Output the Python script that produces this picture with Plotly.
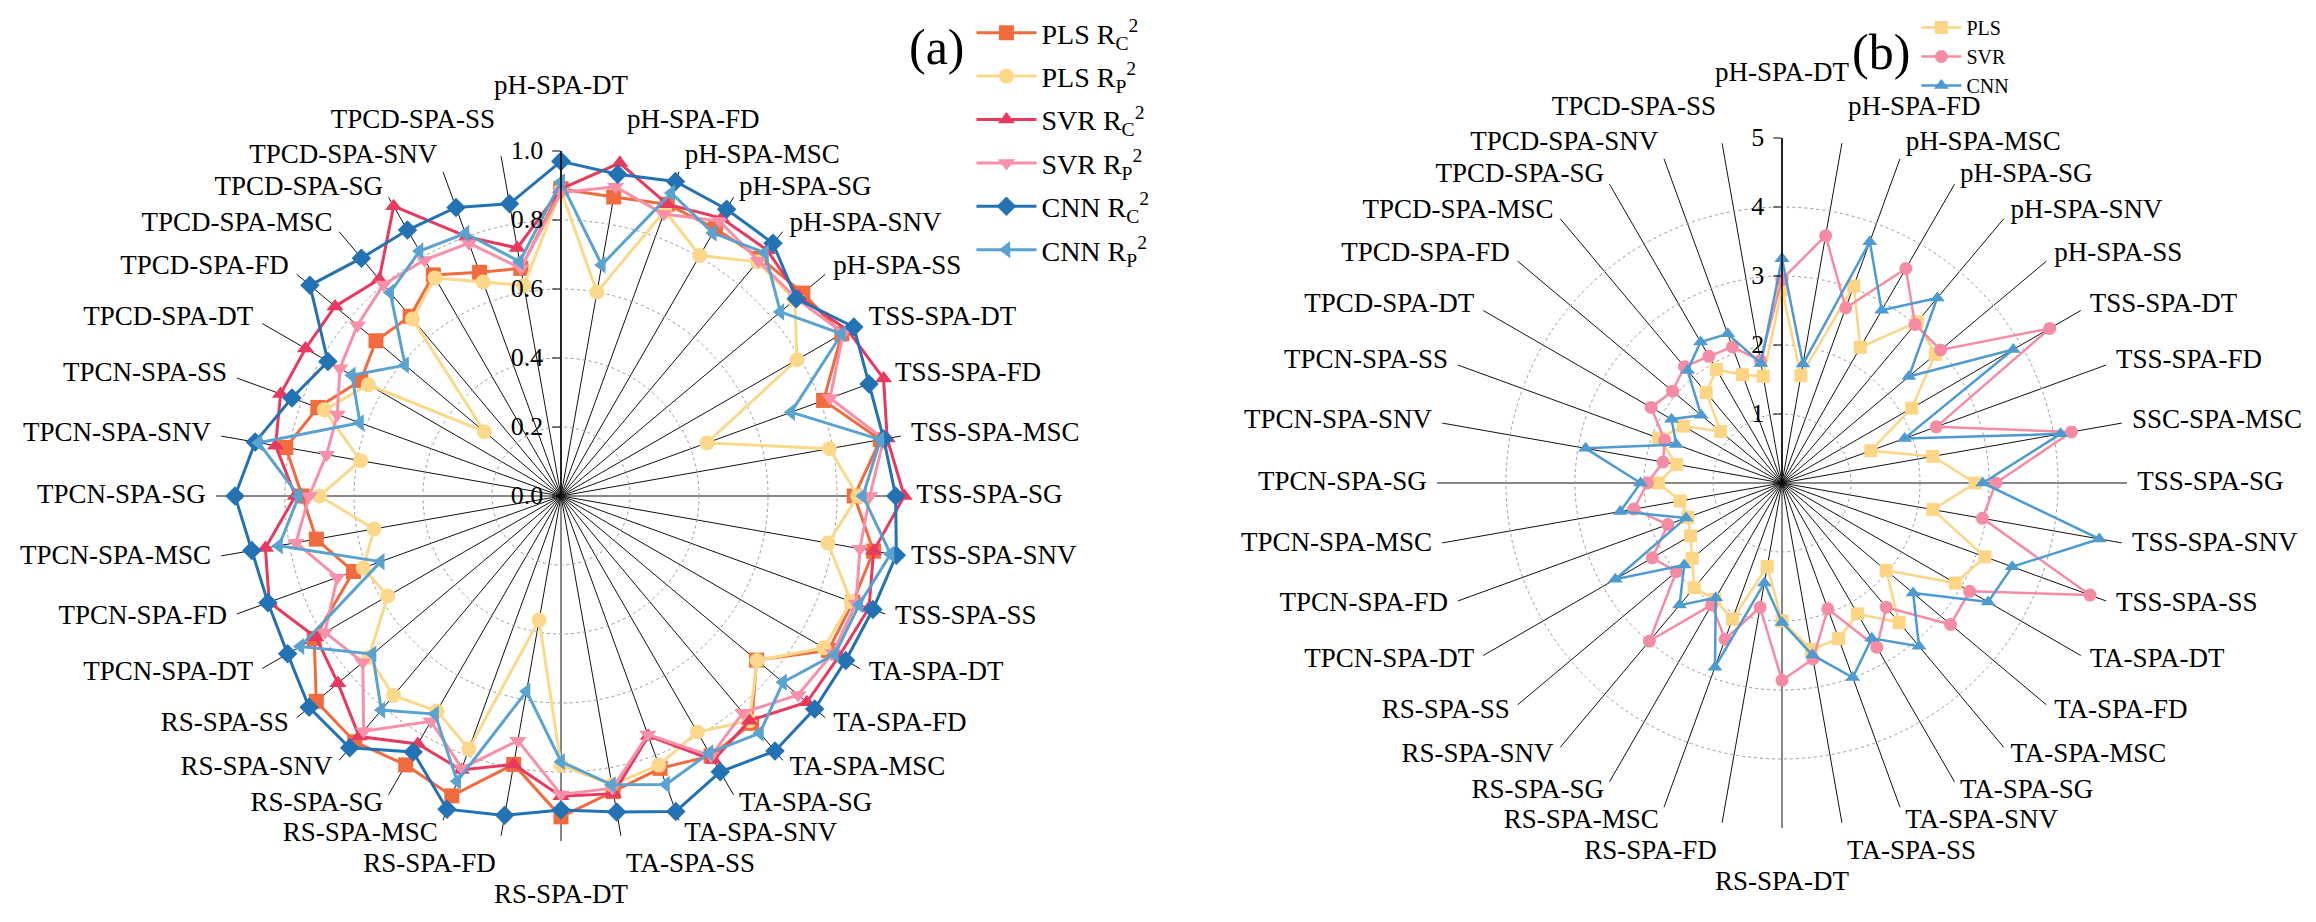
import math
import plotly.graph_objects as go

# ---------------- data ----------------
cats_a = ["pH-SPA-DT", "pH-SPA-FD", "pH-SPA-MSC", "pH-SPA-SG", "pH-SPA-SNV", "pH-SPA-SS",
          "TSS-SPA-DT", "TSS-SPA-FD", "TSS-SPA-MSC", "TSS-SPA-SG", "TSS-SPA-SNV", "TSS-SPA-SS",
          "TA-SPA-DT", "TA-SPA-FD", "TA-SPA-MSC", "TA-SPA-SG", "TA-SPA-SNV", "TA-SPA-SS",
          "RS-SPA-DT", "RS-SPA-FD", "RS-SPA-MSC", "RS-SPA-SG", "RS-SPA-SNV", "RS-SPA-SS",
          "TPCN-SPA-DT", "TPCN-SPA-FD", "TPCN-SPA-MSC", "TPCN-SPA-SG", "TPCN-SPA-SNV", "TPCN-SPA-SS",
          "TPCD-SPA-DT", "TPCD-SPA-FD", "TPCD-SPA-MSC", "TPCD-SPA-SG", "TPCD-SPA-SNV", "TPCD-SPA-SS"]
cats_b = ["pH-SPA-DT", "pH-SPA-FD", "pH-SPA-MSC", "pH-SPA-SG", "pH-SPA-SNV", "pH-SPA-SS",
          "TSS-SPA-DT", "TSS-SPA-FD", "SSC-SPA-MSC", "TSS-SPA-SG", "TSS-SPA-SNV", "TSS-SPA-SS",
          "TA-SPA-DT", "TA-SPA-FD", "TA-SPA-MSC", "TA-SPA-SG", "TA-SPA-SNV", "TA-SPA-SS",
          "RS-SPA-DT", "RS-SPA-FD", "RS-SPA-MSC", "RS-SPA-SG", "RS-SPA-SNV", "RS-SPA-SS",
          "TPCN-SPA-DT", "TPCN-SPA-FD", "TPCN-SPA-MSC", "TPCN-SPA-SG", "TPCN-SPA-SNV", "TPCN-SPA-SS",
          "TPCD-SPA-DT", "TPCD-SPA-FD", "TPCD-SPA-MSC", "TPCD-SPA-SG", "TPCD-SPA-SNV", "TPCD-SPA-SS"]

pls_rc = [0.89, 0.88, 0.90, 0.895, 0.90, 0.915, 0.94, 0.81, 0.94, 0.85, 0.92, 0.90,
          0.895, 0.74, 0.86, 0.87, 0.84, 0.87, 0.93, 0.79, 0.925, 0.90, 0.93, 0.926,
          0.826, 0.64, 0.72, 0.75, 0.81, 0.75, 0.67, 0.70, 0.68, 0.74, 0.69, 0.67]
pls_rp = [0.885, 0.60, 0.88, 0.805, 0.886, 0.885, 0.79, 0.45, 0.79, 0.86, 0.786, 0.895,
          0.88, 0.742, 0.85, 0.79, 0.83, 0.85, 0.78, 0.365, 0.78, 0.72, 0.755, 0.727,
          0.58, 0.61, 0.55, 0.70, 0.59, 0.73, 0.645, 0.29, 0.67, 0.73, 0.66, 0.62]
svr_rc = [0.89, 0.98, 0.90, 0.93, 0.93, 0.90, 0.96, 0.995, 0.96, 0.995, 0.92, 0.95,
          0.93, 0.93, 0.85, 0.884, 0.74, 0.876, 0.87, 0.79, 0.845, 0.83, 0.91, 0.844,
          0.82, 0.90, 0.87, 0.77, 0.84, 0.865, 0.855, 0.855, 0.82, 0.97, 0.80, 0.73]
svr_rp = [0.88, 0.91, 0.87, 0.92, 0.89, 0.89, 0.945, 0.83, 0.95, 0.895, 0.88, 0.91,
          0.91, 0.897, 0.82, 0.87, 0.736, 0.86, 0.865, 0.72, 0.84, 0.754, 0.89, 0.75,
          0.79, 0.69, 0.78, 0.73, 0.69, 0.69, 0.74, 0.77, 0.80, 0.79, 0.78, 0.67]
cnn_rc = [0.97, 0.947, 0.97, 0.96, 0.956, 0.89, 0.98, 0.95, 0.95, 0.97, 0.987, 0.962,
          0.953, 0.96, 0.965, 0.923, 0.973, 0.93, 0.91, 0.94, 0.966, 0.857, 0.953, 0.953,
          0.915, 0.904, 0.91, 0.945, 0.90, 0.83, 0.78, 0.95, 0.90, 0.89, 0.89, 0.86]
cnn_rp = [0.91, 0.68, 0.935, 0.88, 0.92, 0.83, 0.94, 0.71, 0.94, 0.875, 0.97, 0.92,
          0.917, 0.84, 0.897, 0.86, 0.89, 0.85, 0.77, 0.575, 0.88, 0.73, 0.81, 0.713,
          0.872, 0.556, 0.83, 0.76, 0.89, 0.62, 0.70, 0.59, 0.77, 0.82, 0.81, 0.69]

pls_b = [2.8, 1.58, 3.04, 2.27, 3.05, 2.9, 2.17, 1.37, 2.22, 2.8, 2.22, 3.13,
         2.9, 1.97, 2.64, 2.19, 2.4, 2.45, 2.0, 1.23, 2.1, 1.95, 1.98, 1.7,
         1.53, 1.45, 1.5, 1.79, 1.55, 1.9, 1.65, 1.16, 1.71, 1.9, 1.67, 1.57]
svr_b = [2.95, 3.64, 2.70, 3.59, 3.0, 3.0, 4.48, 2.38, 4.26, 3.1, 2.95, 4.75,
         3.14, 3.19, 2.35, 2.75, 1.94, 2.59, 2.86, 1.83, 2.41, 2.04, 2.99, 2.0,
         2.17, 1.76, 2.18, 1.95, 1.75, 1.81, 2.19, 2.07, 2.2, 2.12, 2.1, 1.8]
cnn_b = [3.25, 1.75, 3.72, 2.89, 3.5, 2.4, 3.87, 1.89, 4.1, 2.91, 4.67, 3.55,
         3.45, 2.48, 3.09, 2.6, 3.0, 2.53, 2.02, 1.47, 2.84, 1.92, 2.31, 1.85,
         2.79, 1.48, 2.38, 2.05, 2.89, 1.63, 1.85, 1.53, 2.13, 2.36, 2.3, 1.76]

r_ticks_a = [0.0, 0.2, 0.4, 0.6, 0.8, 1.0]
r_ticklabels_a = ["0.0", "0.2", "0.4", "0.6", "0.8", "1.0"]
r_ticks_b = [0, 1, 2, 3, 4, 5]
r_ticklabels_b = ["", "1", "2", "3", "4", "5"]

FONT = "Liberation Serif"
W, H = 2316, 922
R_PX = 345            # ring radius in pixels
CENTER_A = (553, 488)  # pixel centre of chart (a), from top-left
CENTER_B = (1774, 475)
LABEL_SCALE = 1.2     # helper label subplot extends to 1.2x the data ring


def closed(v):
    return list(v) + [v[0]]


def domain(center, radius):
    cx, cy = center
    cyb = H - cy
    return dict(x=[(cx - radius) / W, (cx + radius) / W], y=[(cyb - radius) / H, (cyb + radius) / H])


fig = go.Figure()

series_a = [
    ("PLS R<sub>C</sub><sup>2</sup>", pls_rc, "#F26B3F", "square"),
    ("PLS R<sub>P</sub><sup>2</sup>", pls_rp, "#FCD98A", "circle"),
    ("SVR R<sub>C</sub><sup>2</sup>", svr_rc, "#E83A5F", "triangle-up"),
    ("SVR R<sub>P</sub><sup>2</sup>", svr_rp, "#F790A8", "triangle-down"),
    ("CNN R<sub>C</sub><sup>2</sup>", cnn_rc, "#2372B4", "diamond"),
    ("CNN R<sub>P</sub><sup>2</sup>", cnn_rp, "#5AA3D1", "triangle-left"),
]
for name, vals, col, sym in series_a:
    fig.add_trace(go.Scatterpolar(
        r=closed(vals), theta=closed(cats_a), name=name, subplot="polar",
        mode="lines+markers", line=dict(color=col, width=3),
        marker=dict(color=col, symbol=sym, size=15), legend="legend", legendgroup=name))

series_b = [
    ("PLS", pls_b, "#FDD585", "square"),
    ("SVR", svr_b, "#F58CA4", "circle"),
    ("CNN", cnn_b, "#4E9BD1", "triangle-up"),
]
for name, vals, col, sym in series_b:
    fig.add_trace(go.Scatterpolar(
        r=closed(vals), theta=closed(cats_b), name=name, subplot="polar2",
        mode="lines+markers", line=dict(color=col, width=2.5),
        marker=dict(color=col, symbol=sym, size=13), legend="legend2"))


def label_trace(cats, subplot):
    """Category labels just outside the outer ring (further out near top and bottom)."""
    n = len(cats)
    rr, pos = [], []
    for i in range(n):
        ang = 360.0 * i / n
        c = math.cos(math.radians(ang))
        amp = 0.115 if c > 0 else 0.09
        rr.append(1.03 + amp * abs(c) ** 30)
        if abs(ang) < 1e-6:
            pos.append("top center")
        elif abs(ang - 180) < 1e-6:
            pos.append("bottom center")
        elif ang < 180:
            pos.append("middle right")
        else:
            pos.append("middle left")
    return go.Scatterpolar(r=rr, theta=cats, text=cats, mode="text", textposition=pos,
                           textfont=dict(family=FONT, size=27, color="black"),
                           cliponaxis=False, showlegend=False, hoverinfo="skip", subplot=subplot)


fig.add_trace(label_trace(cats_a, "polar3"))
fig.add_trace(label_trace(cats_b, "polar4"))


def polar_layout(center, rng, tv, tt, cats):
    return dict(
        domain=domain(center, R_PX),
        bgcolor="white",
        radialaxis=dict(range=rng, tickvals=tv, ticktext=tt, angle=90, side="counterclockwise",
                        tickangle=90, showline=True, linecolor="black", linewidth=1.5,
                        ticks="outside", ticklen=8, tickcolor="black",
                        gridcolor="#9a9a9a", griddash="dot", gridwidth=1,
                        tickfont=dict(family=FONT, size=26, color="black")),
        angularaxis=dict(type="category", categoryorder="array", categoryarray=cats,
                         direction="clockwise", rotation=90, showline=False,
                         gridcolor="#111111", gridwidth=1.2, showticklabels=False,
                         ticks="outside", ticklen=1, tickcolor="rgba(0,0,0,0)"),
    )


def label_layout(center, cats):
    return dict(
        domain=domain(center, R_PX * LABEL_SCALE),
        bgcolor="rgba(0,0,0,0)",
        radialaxis=dict(range=[0, LABEL_SCALE], visible=False),
        angularaxis=dict(type="category", categoryorder="array", categoryarray=cats,
                         direction="clockwise", rotation=90, visible=False),
    )


fig.update_layout(
    width=W, height=H,
    margin=dict(l=0, r=0, t=0, b=0),
    paper_bgcolor="white", plot_bgcolor="white",
    font=dict(family=FONT, color="black"),
    polar=polar_layout(CENTER_A, [0, 1], r_ticks_a, r_ticklabels_a, cats_a),
    polar2=polar_layout(CENTER_B, [0, 5], r_ticks_b, r_ticklabels_b, cats_b),
    polar3=label_layout(CENTER_A, cats_a),
    polar4=label_layout(CENTER_B, cats_b),
    legend=dict(x=0.416, y=1.0, xanchor="left", yanchor="top", bgcolor="rgba(0,0,0,0)",
                font=dict(family=FONT, size=28, color="black"), itemwidth=60,
                traceorder="grouped", tracegroupgap=4),
    legend2=dict(x=0.824, y=1.0, xanchor="left", yanchor="top", bgcolor="rgba(0,0,0,0)",
                 font=dict(family=FONT, size=20, color="black"), itemwidth=40),
    annotations=[
        dict(text="(a)", x=0.414, y=0.99, xref="paper", yref="paper", xanchor="right", yanchor="top",
             showarrow=False, font=dict(family=FONT, size=50, color="black")),
        dict(text="(b)", x=0.822, y=0.985, xref="paper", yref="paper", xanchor="right", yanchor="top",
             showarrow=False, font=dict(family=FONT, size=50, color="black")),
    ],
)

fig.write_html("out.html")
